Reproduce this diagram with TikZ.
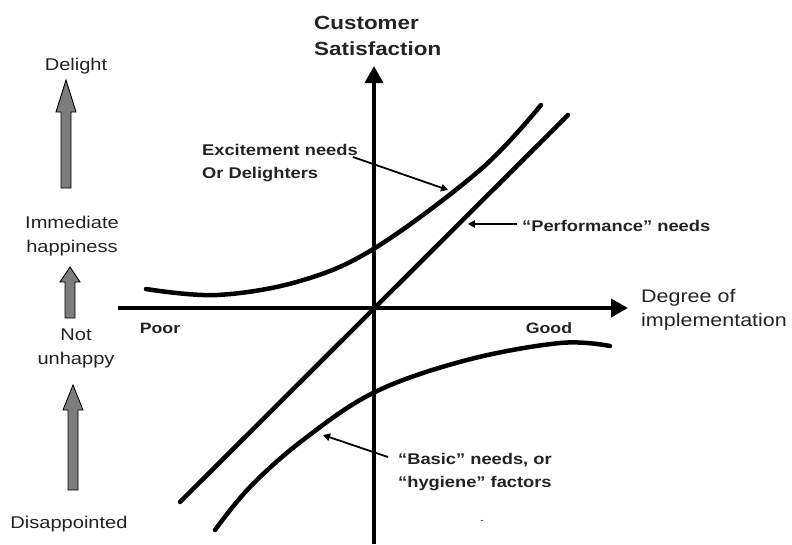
\documentclass[tikz,border=0pt]{standalone}
\usepackage{fontspec}
\setmainfont{Liberation Sans}
\usetikzlibrary{arrows.meta}
\definecolor{arrowgray}{RGB}{125,125,125}
\definecolor{txt}{RGB}{35,35,35}
\newcommand{\sx}[1]{\scalebox{1.18}[1]{#1}}
\newcommand{\blockarrow}[4]{%
  \filldraw[fill=arrowgray, draw=black, line width=0.9pt, line join=miter]
    ({#1-5},#4) -- ({#1-5},#3) -- ({#1-10},#3) -- (#1,#2) -- ({#1+10},#3)
    -- ({#1+5},#3) -- ({#1+5},#4) -- cycle;}
\tikzset{
  lbl/.style={inner sep=0pt, text=txt},
  leftlbl/.style={lbl, anchor=base, font=\fontsize{17}{24}\selectfont},
  boldlbl/.style={lbl, anchor=base west, font=\fontsize{15.5}{23}\selectfont\bfseries},
  axis/.style={line width=4pt, -{Triangle[length=17pt,width=18pt]}},
  curve/.style={line width=4.5pt, line cap=round},
  pointer/.style={line width=1.8pt, -{Triangle[length=7pt,width=7.5pt]}}
}
\begin{document}
\begin{tikzpicture}[x=1pt,y=-1pt]
\fill[white] (0,0) rectangle (792,544);
\useasboundingbox (0,0) rectangle (792,544);

% axes
\coordinate (vbot) at (374,544);
\coordinate (vtop) at (374,66);
\coordinate (hleft) at (118,308);
\coordinate (hright) at (628,308);
\draw[axis] (vbot) -- (vtop);
\draw[axis] (hleft) -- (hright);

% curves
\draw[curve] plot[smooth, tension=0.6] coordinates {(146,289) (217,295) (300,281) (375,248) (480,170) (541,105)};
\coordinate (pa) at (180,502);
\coordinate (pb) at (568,115);
\draw[curve] (pa) -- (pb);
\draw[curve] plot[smooth, tension=0.6] coordinates {(215,530) (250,487) (303,440) (375,392) (467,360) (560,343) (610,346)};

% axis labels
\node[lbl, anchor=base west, font=\fontsize{19}{26}\selectfont\bfseries] (ysat) at (314,29)
  {\sx{\begin{tabular}[t]{@{}l@{}}Customer\\Satisfaction\end{tabular}}};
\node[lbl, anchor=base west, font=\fontsize{18.2}{24}\selectfont] (xdeg) at (641,302)
  {\sx{\begin{tabular}[t]{@{}l@{}}Degree of\\implementation\end{tabular}}};
\node[lbl, anchor=base, font=\fontsize{15}{20}\selectfont\bfseries] (poor) at (160,333) {\sx{Poor}};
\node[lbl, anchor=base, font=\fontsize{15}{20}\selectfont\bfseries] (good) at (549,333) {\sx{Good}};

% curve labels
\node[boldlbl] (exc) at (202,155)
  {\sx{\begin{tabular}[t]{@{}l@{}}Excitement needs\\Or Delighters\end{tabular}}};
\node[boldlbl] (perf) at (522,231) {\sx{``Performance'' needs}};
\node[boldlbl] (basic) at (398,464)
  {\sx{\begin{tabular}[t]{@{}l@{}}``Basic'' needs, or\\``hygiene'' factors\end{tabular}}};
\node[lbl, font=\fontsize{10}{10}\selectfont] (dash) at (482,522) {-};

% pointers
\coordinate (excs) at (353,157);
\coordinate (exct) at (448,190);
\coordinate (perfs) at (517,224);
\coordinate (perft) at (468,224);
\coordinate (bass) at (388,457);
\coordinate (bast) at (323,435);
\draw[pointer] (excs) -- (exct);
\draw[pointer] (perfs) -- (perft);
\draw[pointer] (bass) -- (bast);

% left scale
\node[leftlbl] (delight) at (76,70) {\sx{Delight}};
\node[leftlbl] (immed) at (72,228)
  {\sx{\begin{tabular}[t]{@{}c@{}}Immediate\\happiness\end{tabular}}};
\node[leftlbl] (notun) at (76,340)
  {\sx{\begin{tabular}[t]{@{}c@{}}Not\\unhappy\end{tabular}}};
\node[leftlbl] (disap) at (69,528) {\sx{Disappointed}};

\blockarrow{66}{80}{112}{188}
\blockarrow{70}{267}{282}{318}
\blockarrow{73}{385}{410}{490}
\end{tikzpicture}
\end{document}
